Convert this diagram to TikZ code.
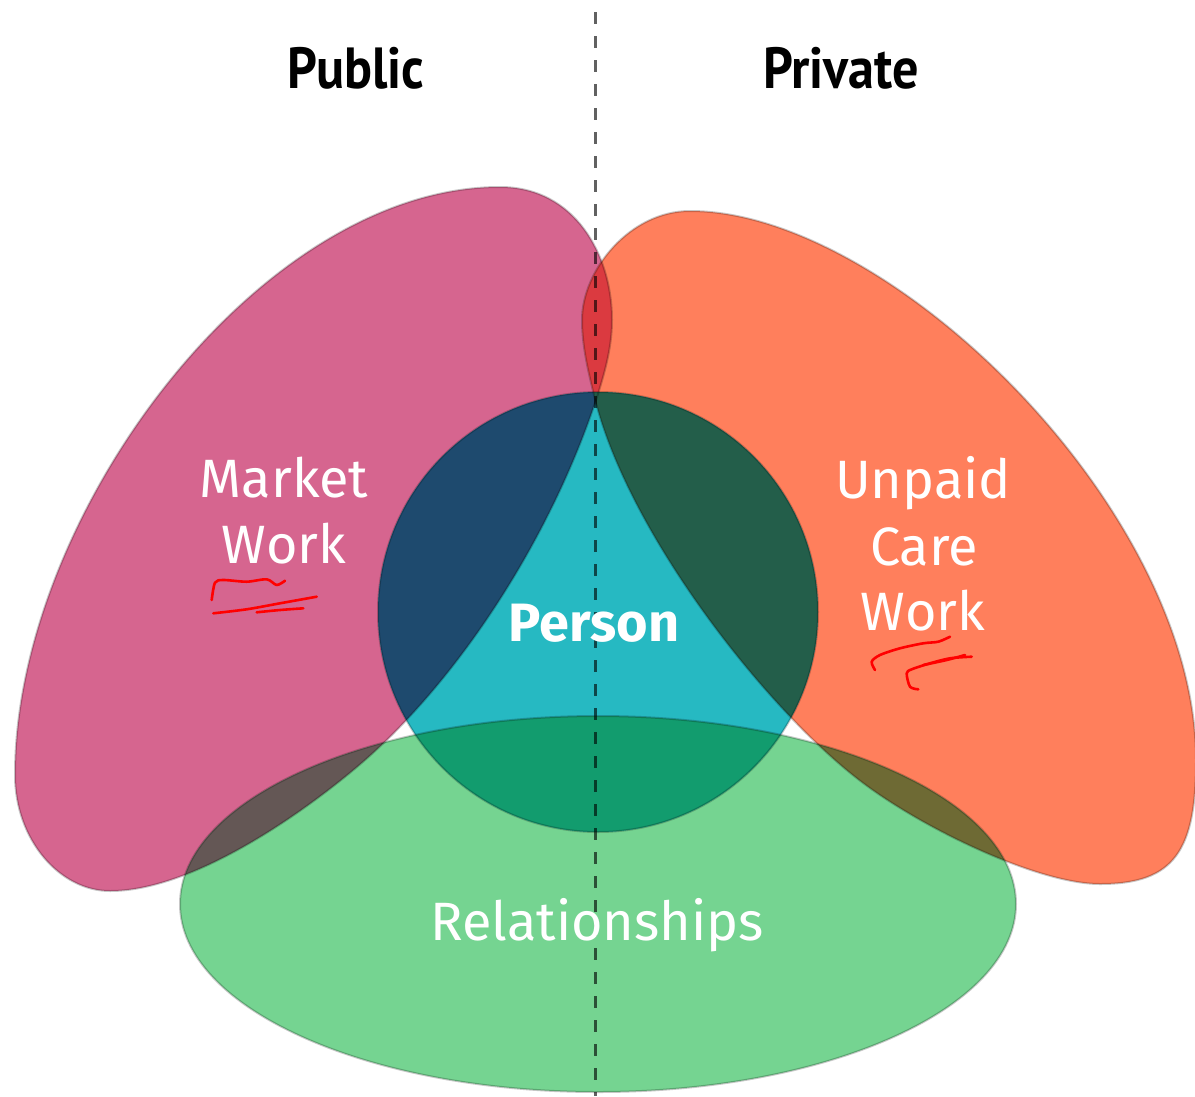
\documentclass[tikz,border=0pt]{standalone}
\usepackage{fontspec}
\newfontfamily\labfont{Fira Sans}
\newfontfamily\headfont[FakeStretch=0.9]{PT Sans}
\definecolor{pinkc}{HTML}{D6658F}
\definecolor{orangec}{HTML}{FF7F5C}
\definecolor{greenc}{HTML}{75D491}
\definecolor{personc}{HTML}{26B9C2}
\definecolor{bluec}{HTML}{1E4A6E}
\definecolor{dgreenc}{HTML}{235E4A}
\definecolor{cgreenc}{HTML}{129C6E}
\definecolor{redc}{HTML}{DB3A40}
\definecolor{pgc}{HTML}{645755}
\definecolor{ogc}{HTML}{6E6A34}
\newcommand\PinkE[1]{\path[#1] (500,-187)
  .. controls (575,-187) and (612,-255) .. (612,-320)
  .. controls (612,-345) and (606,-369) .. (597,-397)
  .. controls (550.5,-539.5) and (456.3,-683.3) .. (357,-767)
  .. controls (295.9,-818.5) and (190,-891) .. (110,-891)
  .. controls (60,-891) and (15,-840) .. (15,-775)
  .. controls (15,-515) and (260,-187) .. (500,-187) -- cycle;}
\newcommand\OrangeE[1]{\path[#1] (690,-211)
  .. controls (890,-211) and (1196,-510) .. (1196,-760)
  .. controls (1196,-850) and (1175,-884) .. (1100,-884)
  .. controls (1040,-884) and (927,-831) .. (863,-783)
  .. controls (767,-711) and (626,-531) .. (594,-395)
  .. controls (588,-371) and (582,-345) .. (582,-320)
  .. controls (582,-270) and (630,-211) .. (690,-211) -- cycle;}
\newcommand\GreenE[1]{\path[#1] (598,-904) ellipse [x radius=418, y radius=188];}
\newcommand\PersonC[1]{\path[#1] (598,-612) circle [radius=220];}
\tikzset{
  lab/.style={text=white, anchor=base, inner sep=0pt, font=\labfont\fontsize{54}{60}\selectfont},
  head/.style={text=black, anchor=base, inner sep=0pt, font=\headfont\bfseries\fontsize{58}{60}\selectfont},
  edge/.style={draw=black, draw opacity=0.22, line width=2},
  scrib/.style={draw=red, line width=2.6, line cap=round, line join=round},
  divider/.style={draw=black, draw opacity=0.62, line width=3, dash pattern=on 12 off 12}
}
\begin{document}
\begin{tikzpicture}[x=1pt,y=1pt]
\useasboundingbox (0,0) rectangle (1195,-1096);
% base shapes
\PinkE{fill=pinkc}
\OrangeE{fill=orangec}
\GreenE{fill=greenc}
\PersonC{fill=personc}
% pairwise overlaps of the lobes
\begin{scope}
  \PinkE{clip}
  \OrangeE{fill=redc}
  \GreenE{fill=pgc}
\end{scope}
\begin{scope}
  \OrangeE{clip}
  \GreenE{fill=ogc}
\end{scope}
% overlaps with the person circle
\begin{scope}
  \PersonC{clip}
  \PinkE{fill=bluec}
  \OrangeE{fill=dgreenc}
  \GreenE{fill=cgreenc}
\end{scope}
% outlines
\PinkE{edge}
\OrangeE{edge}
\GreenE{edge}
\PersonC{edge}
% divider
\coordinate (dtop) at (595,-12);
\coordinate (dbot) at (595,-1096);
\draw[divider] (dtop) -- (dbot);
% headings
\node[head] (public) at (356,-88) {Public};
\node[head] (private) at (841,-88) {Private};
% labels
\node[lab] (mw1) at (284,-497) {Market};
\node[lab] (mw2) at (284,-563) {Work};
\node[lab] (uc1) at (923,-498) {Unpaid};
\node[lab] (uc2) at (924,-565) {Care};
\node[lab] (uc3) at (923,-630) {Work};
\node[lab, font=\labfont\bfseries\fontsize{54}{60}\selectfont] (person) at (594,-641) {Person};
\node[lab] (rel) at (597,-940) {Relationships};
% red scribbles
\draw[scrib] plot[smooth] coordinates {(211.7,-600) (215,-582.7) (223.3,-580) (246.7,-581.7) (266.7,-579.3) (276.7,-585) (285,-580.7)};
\draw[scrib] plot[smooth] coordinates {(213.3,-613.3) (246.7,-609.3) (280,-603.3) (316.7,-596.7)};
\draw[scrib] plot[smooth] coordinates {(256.7,-612.3) (280,-610) (303.3,-608.3)};
\draw[scrib] plot[smooth] coordinates {(875,-670) (871.7,-661.7) (880,-655) (900,-648.3) (923.3,-643.3) (938.3,-641.7) (950,-636.7)};
\draw[scrib] plot[smooth] coordinates {(918.3,-689.3) (910,-686.7) (906.7,-673.3) (911.7,-669.3) (930,-663.3) (950,-658.3) (971.7,-656.7)};
\draw[scrib] plot[smooth] coordinates {(923.3,-665) (946.7,-660) (965,-655)};
\end{tikzpicture}
\end{document}
